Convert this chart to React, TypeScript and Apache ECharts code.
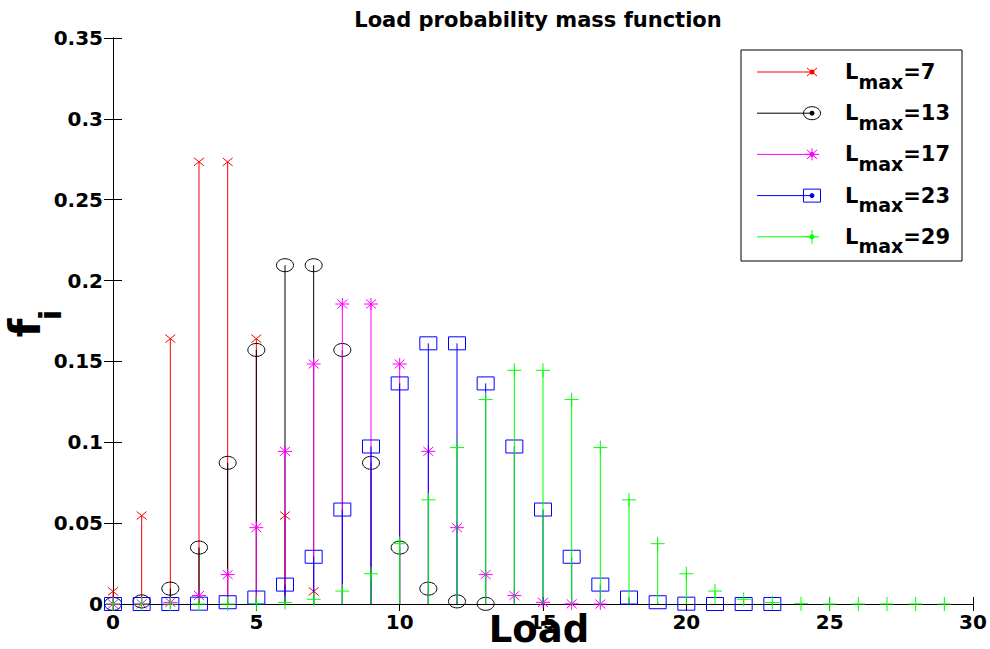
import React, { useEffect, useRef } from "react";
import * as echarts from "echarts";

// ---- data ----
const loads = [0, 1, 2, 3, 4, 5, 6, 7, 8, 9, 10, 11, 12, 13, 14, 15, 16, 17, 18, 19, 20, 21, 22, 23, 24, 25, 26, 27, 28, 29];
const fLmax7 = [0.0078, 0.0547, 0.1641, 0.2734, 0.2734, 0.1641, 0.0547, 0.0078];
const fLmax13 = [0.0001, 0.0016, 0.0095, 0.0349, 0.0873, 0.1571, 0.2095, 0.2095, 0.1571, 0.0873, 0.0349, 0.0095, 0.0016, 0.0001];
const fLmax17 = [0.0, 0.0001, 0.001, 0.0052, 0.0182, 0.0472, 0.0944, 0.1484, 0.1855, 0.1855, 0.1484, 0.0944, 0.0472, 0.0182, 0.0052, 0.001, 0.0001, 0.0];
const fLmax23 = [0.0, 0.0, 0.0, 0.0002, 0.0011, 0.004, 0.012, 0.0292, 0.0584, 0.0974, 0.1364, 0.1612, 0.1612, 0.1364, 0.0974, 0.0584, 0.0292, 0.012, 0.004, 0.0011, 0.0002, 0.0, 0.0, 0.0];
const fLmax29 = [0.0, 0.0, 0.0, 0.0, 0.0, 0.0002, 0.0009, 0.0029, 0.008, 0.0187, 0.0373, 0.0644, 0.0967, 0.1264, 0.1445, 0.1445, 0.1264, 0.0967, 0.0644, 0.0373, 0.0187, 0.008, 0.0029, 0.0009, 0.0002, 0.0, 0.0, 0.0, 0.0, 0.0];
const lmaxLabels = ["7", "13", "17", "23", "29"];
const seriesValues = [fLmax7, fLmax13, fLmax17, fLmax23, fLmax29];
const seriesColors = ["#ff0000", "#000000", "#ff00ff", "#0000ff", "#00ff00"];
const seriesMarkers = ["x", "circle", "star", "square", "plus"];
const xTicks = { min: 0, max: 30, interval: 5 };
const yTicks = { min: 0, max: 0.35, interval: 0.05 };
const titleText = "Load probability mass function";
const xName = "Load";

const FONT = "DejaVu Sans";

function ln(x1: number, y1: number, x2: number, y2: number, color: string) {
  return { type: "line", shape: { x1, y1, x2, y2 }, style: { stroke: color, lineWidth: 1 } };
}

function markerEls(kind: string, cx: number, cy: number, color: string, dot: boolean) {
  const els: any[] = [];
  if (kind === "x") {
    els.push(ln(cx - 5, cy - 4, cx + 5, cy + 4, color), ln(cx - 5, cy + 4, cx + 5, cy - 4, color));
  } else if (kind === "circle") {
    els.push({ type: "ellipse", shape: { cx, cy, rx: 8.5, ry: 6.5 }, style: { fill: "none", stroke: color, lineWidth: 1 } });
  } else if (kind === "star") {
    els.push(
      ln(cx - 7, cy, cx + 7, cy, color),
      ln(cx, cy - 6, cx, cy + 6, color),
      ln(cx - 5, cy - 4.5, cx + 5, cy + 4.5, color),
      ln(cx - 5, cy + 4.5, cx + 5, cy - 4.5, color)
    );
  } else if (kind === "square") {
    els.push({ type: "rect", shape: { x: cx - 8.5, y: cy - 6.5, width: 17, height: 13 }, style: { fill: "none", stroke: color, lineWidth: 1 } });
  } else if (kind === "plus") {
    els.push(ln(cx - 7, cy, cx + 7, cy, color), ln(cx, cy - 7, cx, cy + 7, color));
  }
  if (dot) {
    els.push({ type: "circle", shape: { cx, cy, r: 2.5 }, style: { fill: color, stroke: "none" } });
  }
  return els;
}

export default function App() {
  const ref = useRef<HTMLDivElement>(null);
  useEffect(() => {
    document.body.style.margin = "0";
    if (!ref.current) return;
    const chart = echarts.init(ref.current, null, { renderer: "svg" });

    const series = seriesValues.map((vals, si) => ({
      type: "custom",
      name: "Lmax=" + lmaxLabels[si],
      xAxisIndex: 0,
      yAxisIndex: 0,
      data: vals.map((v, i) => [loads[i], v]),
      renderItem: (params: any, api: any) => {
        const x = api.value(0);
        const y = api.value(1);
        const p = api.coord([x, y]);
        const p0 = api.coord([x, 0]);
        const color = seriesColors[si];
        return {
          type: "group",
          children: [ln(p0[0], p0[1], p[0], p[1], color), ...markerEls(seriesMarkers[si], p[0], p[1], color, false)],
        };
      },
    }));

    // legend (drawn as graphic)
    const legendX = 741, legendY = 50, legendW = 221, legendH = 211;
    const legendChildren: any[] = [
      { type: "rect", shape: { x: legendX, y: legendY, width: legendW, height: legendH }, style: { fill: "#fff", stroke: "#000", lineWidth: 1 } },
    ];
    lmaxLabels.forEach((lab, i) => {
      const ry = 72 + i * 41.2;
      const color = seriesColors[i];
      legendChildren.push(ln(757, ry, 812, ry, color));
      legendChildren.push(...markerEls(seriesMarkers[i], 812, ry, color, true));
      legendChildren.push({
        type: "text",
        x: 845,
        y: ry,
        style: {
          text: "{m|L}{s|max}{m|=" + lab + "}",
          textAlign: "left",
          textVerticalAlign: "middle",
          rich: {
            m: { fontFamily: FONT, fontWeight: "bold", fontSize: 21, lineHeight: 21, fill: "#000" },
            s: { fontFamily: FONT, fontWeight: "bold", fontSize: 19, lineHeight: 19, padding: [19, 0, 0, 0], fill: "#000" },
          },
        },
      });
    });

    const option: any = {
      animation: false,
      backgroundColor: "#ffffff",
      grid: { left: 113, right: 17, top: 38, bottom: 45, containLabel: false, outerBoundsMode: "none" },
      xAxis: [
        {
          type: "value",
          ...xTicks,
          axisLine: { show: true, lineStyle: { color: "#000", width: 1 } },
          axisTick: { show: true, inside: true, length: 7, lineStyle: { color: "#000" } },
          axisLabel: { show: true, margin: 8, fontFamily: FONT, fontWeight: "bold", fontSize: 20, color: "#000" },
          splitLine: { show: false },
        },
        {
          type: "value",
          position: "top",
          ...xTicks,
          axisLine: { show: true, lineStyle: { color: "#000", width: 1 } },
          axisTick: { show: true, inside: true, length: 7, lineStyle: { color: "#000" } },
          axisLabel: { show: false },
          splitLine: { show: false },
        },
      ],
      yAxis: [
        {
          type: "value",
          ...yTicks,
          axisLine: { show: true, lineStyle: { color: "#000", width: 1 } },
          axisTick: { show: true, inside: true, length: 9, lineStyle: { color: "#000" } },
          axisLabel: { show: true, margin: 10, fontFamily: FONT, fontWeight: "bold", fontSize: 20, color: "#000" },
          splitLine: { show: false },
        },
        {
          type: "value",
          position: "right",
          ...yTicks,
          axisLine: { show: true, lineStyle: { color: "#000", width: 1 } },
          axisTick: { show: true, inside: true, length: 9, lineStyle: { color: "#000" } },
          axisLabel: { show: false },
          splitLine: { show: false },
        },
      ],
      graphic: [
        {
          type: "text",
          x: 538,
          y: 20,
          style: { text: titleText, textAlign: "center", textVerticalAlign: "middle", fontFamily: FONT, fontWeight: "bold", fontSize: 21, fill: "#000" },
        },
        {
          type: "text",
          x: 539,
          y: 629,
          z: 50,
          style: { text: xName, textAlign: "center", textVerticalAlign: "middle", fontFamily: FONT, fontWeight: "bold", fontSize: 37, fill: "#000" },
        },
        {
          type: "text",
          x: 25,
          y: 328,
          rotation: Math.PI / 2,
          style: { text: "f", textAlign: "center", textVerticalAlign: "middle", fontFamily: FONT, fontWeight: "bold", fontSize: 43, fill: "#000" },
        },
        {
          type: "text",
          x: 50,
          y: 315,
          rotation: Math.PI / 2,
          style: { text: "i", textAlign: "center", textVerticalAlign: "middle", fontFamily: FONT, fontWeight: "bold", fontSize: 31, fill: "#000" },
        },
        { type: "group", z: 100, children: legendChildren },
      ],
      series,
    };
    chart.setOption(option);
    return () => chart.dispose();
  }, []);
  return <div ref={ref} style={{ position: "fixed", left: 0, top: 0, width: 990, height: 649, background: "#fff" }} />;
}
